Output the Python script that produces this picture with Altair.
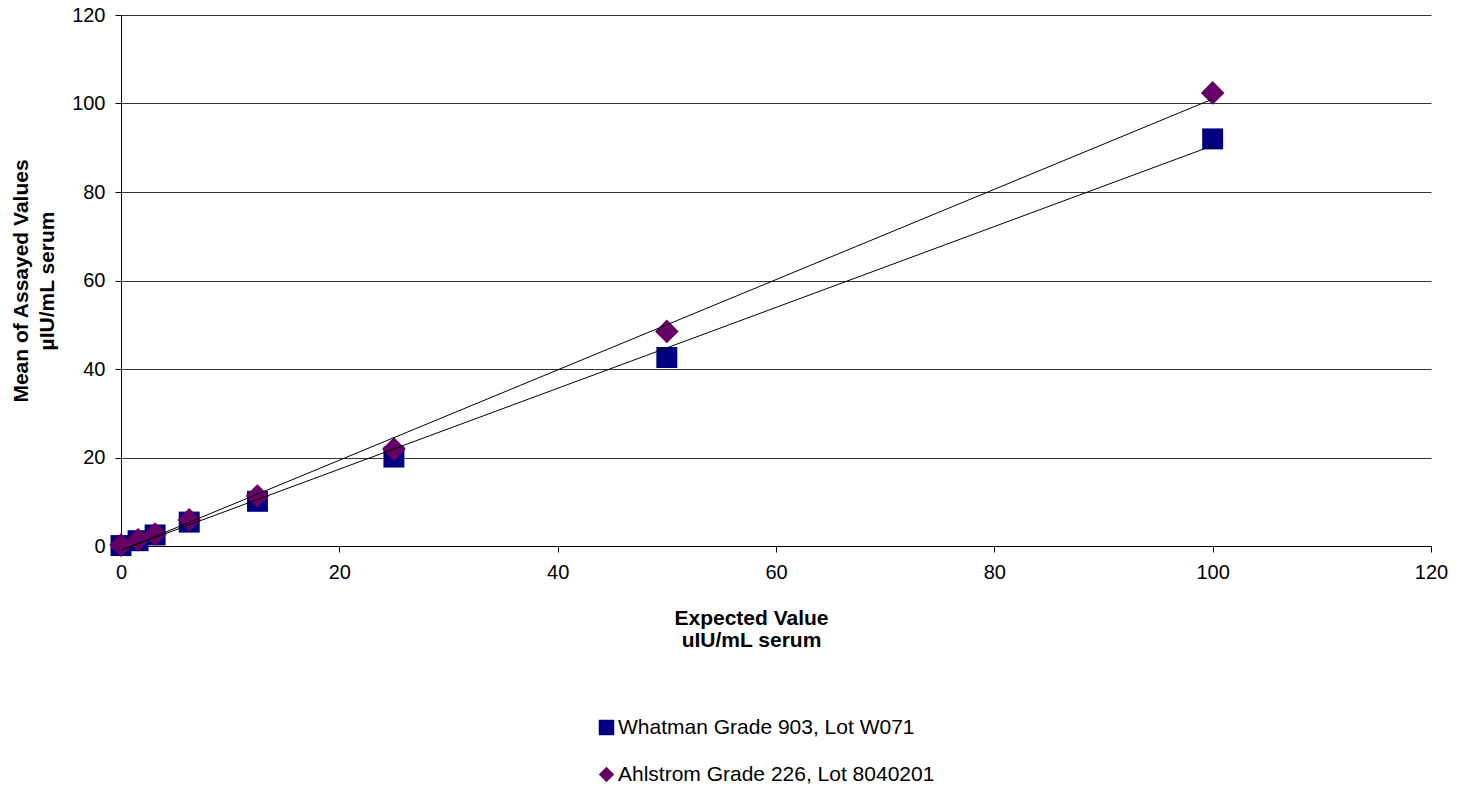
import altair as alt
import pandas as pd

expected = [0, 1.5625, 3.125, 6.25, 12.5, 25, 50, 100]
whatman = [0.1, 1.2, 2.5, 5.4, 10.1, 20.1, 42.6, 92.0]
ahlstrom = [0.2, 1.4, 2.7, 5.9, 11.3, 21.9, 48.5, 102.4]
series_names = ["Whatman Grade 903, Lot W071", "Ahlstrom Grade 226, Lot 8040201"]
marker_sizes = [440, 560]

rows = []
for x, y in zip(expected, whatman):
    rows.append({"x": x, "y": y, "series": series_names[0]})
for x, y in zip(expected, ahlstrom):
    rows.append({"x": x, "y": y, "series": series_names[1]})
df = pd.DataFrame(rows)

FONT = "Liberation Sans"

xenc = alt.X("x:Q", scale=alt.Scale(domain=[0, 120], nice=False),
             axis=alt.Axis(values=[0, 20, 40, 60, 80, 100, 120], grid=False,
                           title=["Expected Value", "uIU/mL serum"],
                           titleFontWeight="bold", titleFontSize=21,
                           titleLineHeight=22, titlePadding=25,
                           labelFontSize=20, labelPadding=10, labelFlush=False,
                           tickSize=6, domainColor="black", tickColor="black",
                           labelColor="black", titleColor="black", titleX=630))
yenc = alt.Y("y:Q", scale=alt.Scale(domain=[0, 120], nice=False),
             axis=alt.Axis(values=[0, 20, 40, 60, 80, 100, 120], grid=True,
                           gridColor="#333333", gridWidth=1,
                           title=["Mean of Assayed Values", "µIU/mL serum"],
                           titleFontWeight="bold", titleFontSize=21,
                           titleLineHeight=26, titlePadding=14,
                           labelFontSize=20, labelPadding=10, labelFlush=False,
                           tickSize=6, domainColor="black", tickColor="black",
                           labelColor="black", titleColor="black"))

leg = alt.Legend(title=None, orient="none", legendX=475, legendY=702,
                 labelFontSize=21, symbolSize=240, rowPadding=25, labelLimit=500,
                 labelColor="black", labelOffset=1, labelFont=FONT,
                 symbolStrokeWidth=0)

color = alt.Color("series:N", scale=alt.Scale(domain=series_names, range=["#000080", "#660066"]),
                  legend=leg)
shape = alt.Shape("series:N", scale=alt.Scale(domain=series_names, range=["square", "diamond"]),
                  legend=leg)

base = alt.Chart(df)
layers = []
for name, sz in zip(series_names, marker_sizes):
    layers.append(
        base.transform_filter(alt.datum.series == name)
        .mark_point(filled=True, opacity=1, size=sz)
        .encode(x=xenc, y=yenc, color=color, shape=shape)
    )

lines = base.transform_regression(
    "x", "y", groupby=["series"], extent=[0, 100]
).mark_line(color="black", strokeWidth=1).encode(
    x="x:Q", y="y:Q", detail="series:N"
)

chart = alt.layer(*layers, lines).properties(
    width=1310, height=531,
    autosize=alt.AutoSizeParams(type="none"),
    padding={"left": 113, "top": 7, "right": 27, "bottom": 240},
).configure(font=FONT).configure_view(stroke=None).configure_axis(labelFont=FONT, titleFont=FONT)

chart.save("out.html", embed_options={"renderer": "svg", "actions": False})
